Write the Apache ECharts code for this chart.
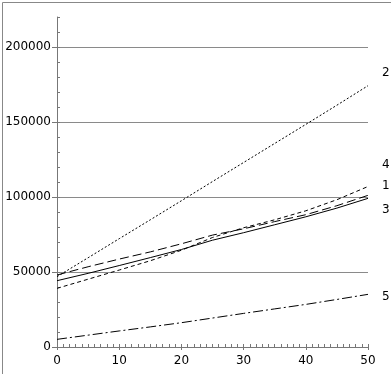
<!DOCTYPE html>
<html><head><meta charset="utf-8">
<script src="https://cdn.jsdelivr.net/npm/echarts@6/dist/echarts.min.js"></script>
<style>html,body{margin:0;padding:0;background:#fff}#c{width:391px;height:374px}</style>
</head><body><div id="c"></div>
<script>
var xValues = [0, 5, 10, 15, 20, 25, 30, 35, 40, 45, 50];
var series1 = [48000, 53500, 58600, 63400, 68800, 74600, 78800, 83600, 88200, 94200, 101100];
var series2 = [46900, 59500, 72200, 84800, 97500, 110300, 123000, 135700, 148400, 161200, 174200];
var series3 = [44200, 49100, 54300, 59600, 65000, 71200, 76200, 81500, 86800, 92600, 99100];
var series4 = [39100, 45200, 51300, 57500, 64500, 73000, 79500, 84800, 90800, 98200, 107000];
var series5 = [5100, 7900, 10700, 13400, 16200, 19300, 22400, 25400, 28400, 31700, 35100];
var seriesNames = ['1', '2', '3', '4', '5'];
var yTicks = [0, 50000, 100000, 150000, 200000];

function pairs(arr){ return xValues.map(function(x,i){ return [x, arr[i]]; }); }

var styles = [
  {type:[9,4], off:[0,-9]},
  {type:[2,2], off:[0,-13]},
  {type:'solid', off:[0,12]},
  {type:[4,3], off:[0,-22]},
  {type:[10,3,2,3], off:[0,3]}
];
var data = [series1, series2, series3, series4, series5];
var font = {fontFamily:'DejaVu Sans', fontSize:12, color:'#000'};

var chart = echarts.init(document.getElementById('c'), null, {renderer:'canvas'});
chart.setOption({
  animation:false,
  backgroundColor:'#fff',
  grid:{left:57, right:23, top:17, bottom:27},
  graphic:[{type:'rect', shape:{x:2.5,y:2.5,width:420,height:420}, style:{fill:'none', stroke:'#888', lineWidth:1}, silent:true}],
  xAxis:[
    {type:'value', min:0, max:50, interval:10,
     axisLine:{lineStyle:{color:'#777'}},
     axisTick:{show:true, length:3, lineStyle:{color:'#777'}},
     axisLabel:Object.assign({margin:8, formatter:function(v){return String(v);}}, font),
     splitLine:{show:false}},
    {type:'value', min:0, max:50, interval:1, position:'bottom',
     axisLine:{show:false},
     axisTick:{show:true, inside:true, length:3, lineStyle:{color:'#777'}},
     axisLabel:{show:false}, splitLine:{show:false}}
  ],
  yAxis:[
    {type:'value', min:0, max:220000, interval:50000,
     axisLine:{show:true, lineStyle:{color:'#777'}},
     axisTick:{show:true, length:5, lineStyle:{color:'#777'}},
     axisLabel:Object.assign({margin:6, showMaxLabel:false,
       formatter:function(v){ return yTicks.indexOf(v) >= 0 ? String(v) : ''; }}, font),
     splitLine:{show:true, showMinLine:false, showMaxLine:false, lineStyle:{color:'#8a8a8a', width:1}}},
    {type:'value', min:0, max:220000, interval:10000, position:'left',
     axisLine:{show:false},
     axisTick:{show:true, inside:true, length:3, lineStyle:{color:'#777'}},
     axisLabel:{show:false}, splitLine:{show:false}}
  ],
  series: data.map(function(arr, i){
    return {
      name: seriesNames[i], type:'line', data: pairs(arr),
      xAxisIndex:0, yAxisIndex:0,
      showSymbol:false, symbol:'none',
      lineStyle:{color:'#000', width:1, type:styles[i].type},
      endLabel:{show:true, formatter: seriesNames[i], distance:14, offset:styles[i].off,
        fontFamily:'DejaVu Sans', fontSize:12, color:'#000'}
    };
  })
});
</script></body></html>
